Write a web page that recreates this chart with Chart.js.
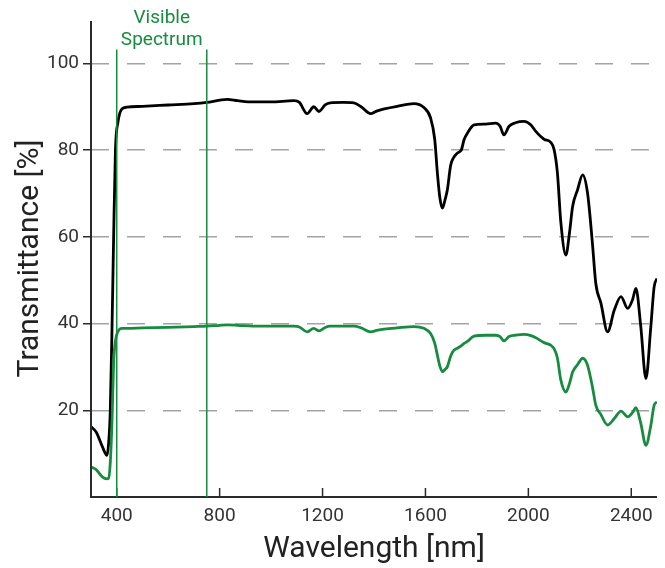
<!DOCTYPE html>
<html>
<head>
<meta charset="utf-8">
<script src="https://cdn.jsdelivr.net/npm/chart.js@4.4.0/dist/chart.umd.min.js"></script>
<style>
  html, body { margin: 0; padding: 0; background: #fff; }
  #wrap { width: 665px; height: 568px; }
</style>
</head>
<body>
<div id="wrap"><canvas id="spectrumChart" width="665" height="568"></canvas></div>
<script>
// wavelength samples (nm), shared by both curves
const wavelengths = [300, 320, 345, 362, 368, 375, 382, 388, 395, 405, 420, 440, 500, 600, 700, 750, 800, 830, 870, 930,
  1000, 1088, 1110, 1140, 1166, 1186, 1210, 1230, 1280, 1322, 1350, 1387, 1410, 1440, 1490, 1555, 1594, 1620, 1636, 1646,
  1656, 1666, 1676, 1685, 1698, 1710, 1724, 1740, 1750, 1763, 1789, 1834, 1873, 1890, 1905, 1925, 1950, 1983, 2010, 2029,
  2061, 2087, 2100, 2113, 2126, 2146, 2160, 2172, 2191, 2211, 2230, 2249, 2262, 2282, 2308, 2334, 2360, 2386, 2405, 2418,
  2437, 2457, 2476, 2489, 2500];

// black curve (upper)
const upperValues = [16.2, 15.0, 11.5, 9.6, 12.0, 20.0, 40.0, 60.0, 80.0, 86.5, 89.5, 89.9, 90.1, 90.4, 90.7, 91.0, 91.5, 91.7, 91.4, 91.1,
  91.1, 91.4, 91.0, 88.4, 90.0, 88.9, 90.4, 90.9, 91.0, 90.9, 90.0, 88.4, 89.0, 89.5, 90.1, 90.7, 89.8, 87.4, 82.5, 75.0,
  69.0, 66.6, 68.5, 70.8, 76.5, 78.3, 79.3, 80.1, 82.4, 83.9, 85.8, 86.0, 86.2, 85.5, 83.5, 85.5, 86.3, 86.6, 85.8, 84.3,
  82.5, 81.8, 80.1, 74.7, 63.5, 55.8, 61.0, 67.0, 70.8, 74.3, 70.1, 58.5, 49.3, 44.7, 38.1, 43.1, 46.2, 43.5, 45.5, 48.1,
  39.3, 27.3, 39.3, 48.5, 50.4];

// green curve (lower)
const lowerValues = [6.9, 6.3, 4.6, 4.2, 4.3, 8.0, 18.0, 31.0, 36.0, 38.2, 38.9, 38.9, 39.0, 39.1, 39.3, 39.4, 39.6, 39.7, 39.6, 39.4,
  39.4, 39.4, 39.2, 38.1, 38.9, 38.3, 39.1, 39.4, 39.4, 39.4, 39.0, 38.1, 38.4, 38.7, 39.0, 39.3, 38.9, 37.7, 35.5, 32.8,
  30.2, 28.9, 29.4, 30.0, 32.5, 33.8, 34.3, 34.9, 35.4, 35.9, 37.1, 37.3, 37.3, 37.0, 36.0, 37.0, 37.3, 37.5, 37.2, 36.7,
  35.6, 35.0, 34.2, 32.0, 27.0, 24.2, 26.2, 28.8, 30.5, 32.0, 30.4, 25.4, 21.2, 19.0, 16.6, 18.1, 19.8, 18.5, 19.5, 20.6,
  17.0, 11.9, 16.5, 21.2, 21.9];

const xTickValues = [400, 800, 1200, 1600, 2000, 2400];
const yTickValues = [20, 40, 60, 80, 100];
const visibleRange = [400, 750];
const visibleLabel = ['Visible', 'Spectrum'];

const GREEN = '#178c3f';
const AXIS = '#2b2b2b';
const FONT = 'Roboto';

// axis lines, inward x ticks, visible spectrum markers
const decorPlugin = {
  id: 'decor',
  afterDraw(chart) {
    const ctx = chart.ctx;
    const xs = chart.scales.x;
    const ys = chart.scales.y;
    const area = chart.chartArea;
    ctx.save();

    // axes
    ctx.strokeStyle = AXIS;
    ctx.lineWidth = 2;
    ctx.beginPath();
    ctx.moveTo(area.left, ys.getPixelForValue(110) + 1);
    ctx.lineTo(area.left, area.bottom);
    ctx.lineTo(area.right, area.bottom);
    ctx.stroke();

    // x ticks point inward
    ctx.lineWidth = 1.5;
    xTickValues.forEach(v => {
      const px = xs.getPixelForValue(v);
      ctx.beginPath();
      ctx.moveTo(px, area.bottom);
      ctx.lineTo(px, area.bottom - 9);
      ctx.stroke();
    });

    // visible spectrum bounds
    ctx.strokeStyle = GREEN;
    ctx.lineWidth = 1.5;
    const topY = ys.getPixelForValue(103.2);
    visibleRange.forEach(v => {
      const px = xs.getPixelForValue(v);
      ctx.beginPath();
      ctx.moveTo(px, topY);
      ctx.lineTo(px, area.bottom);
      ctx.stroke();
    });

    const cx = (xs.getPixelForValue(visibleRange[0]) + xs.getPixelForValue(visibleRange[1])) / 2;
    ctx.fillStyle = GREEN;
    ctx.font = '19px ' + FONT;
    ctx.textAlign = 'center';
    ctx.textBaseline = 'middle';
    ctx.fillText(visibleLabel[0], cx, 18);
    ctx.fillText(visibleLabel[1], cx, 40);
    ctx.restore();
  }
};

const ctx = document.getElementById('spectrumChart');

new Chart(ctx, {
  type: 'line',
  data: {
    datasets: [
      {
        data: wavelengths.map((w, i) => ({ x: w, y: lowerValues[i] })),
        borderColor: GREEN,
        borderWidth: 2.8,
        pointRadius: 0,
        fill: false,
        cubicInterpolationMode: 'monotone'
      },
      {
        data: wavelengths.map((w, i) => ({ x: w, y: upperValues[i] })),
        borderColor: '#000000',
        borderWidth: 2.8,
        pointRadius: 0,
        fill: false,
        cubicInterpolationMode: 'monotone'
      }
    ]
  },
  options: {
    responsive: false,
    animation: false,
    layout: { padding: { top: 20, right: 8, left: 0, bottom: 0 } },
    plugins: {
      legend: { display: false },
      tooltip: { enabled: false }
    },
    scales: {
      x: {
        type: 'linear',
        min: 300,
        max: 2500,
        afterBuildTicks: axis => { axis.ticks = xTickValues.map(v => ({ value: v })); },
        afterFit: axis => { axis.height = 71; },
        grid: { display: false },
        border: { display: false },
        ticks: {
          color: '#333333',
          padding: 0,
          font: { family: FONT, size: 19 },
          maxRotation: 0,
          callback: v => String(v)
        },
        title: {
          display: true,
          text: 'Wavelength [nm]',
          color: '#222222',
          font: { family: FONT, size: 30 },
          padding: { top: 0, bottom: 1 }
        }
      },
      y: {
        min: 0,
        max: 110,
        afterBuildTicks: axis => { axis.ticks = yTickValues.map(v => ({ value: v })); },
        afterFit: axis => { axis.width = 91; },
        grid: {
          color: '#a3a3a3',
          lineWidth: 1.5,
          tickColor: AXIS,
          tickLength: 8,
          tickWidth: 1.5,
          tickBorderDash: []
        },
        border: { display: false, dash: [18, 18] },
        ticks: {
          color: '#333333',
          padding: 4,
          font: { family: FONT, size: 19 },
          callback: v => String(v)
        },
        title: {
          display: true,
          text: 'Transmittance [%]',
          color: '#222222',
          font: { family: FONT, size: 30 },
          padding: { top: 12, bottom: 0 }
        }
      }
    }
  },
  plugins: [decorPlugin]
});
</script>
</body>
</html>
